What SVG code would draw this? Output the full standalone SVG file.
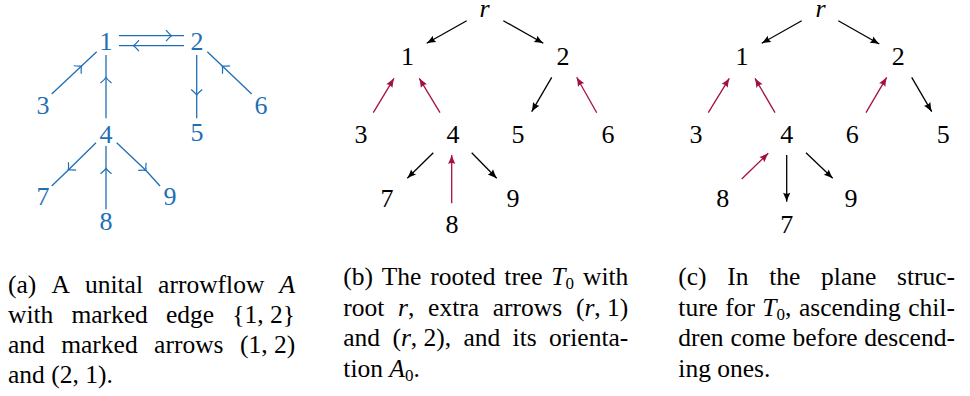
<svg xmlns="http://www.w3.org/2000/svg" width="970" height="396" viewBox="0 0 970 396">
<defs>
<style>
.lb{font-family:"Liberation Serif","Times New Roman",serif;font-size:26px;text-anchor:middle}
.blue{fill:#1f6fb5}
.cap{font-family:"Liberation Serif","Times New Roman",serif;font-size:25.5px;fill:#000}
.it{font-style:italic}
.sub{font-size:17px}
.ea{stroke:#1f6fb5;stroke-width:1.3;fill:none;marker-mid:url(#ma)}
.ek{stroke:#000;stroke-width:1.3;fill:none;marker-end:url(#mk)}
.er{stroke:#a3123e;stroke-width:1.3;fill:none;marker-end:url(#mr)}
</style>
<marker id="ma" viewBox="-8 -8 10 16" markerWidth="10" markerHeight="16" refX="0" refY="0" orient="auto" markerUnits="userSpaceOnUse" overflow="visible">
<path d="M-5.5,-5.5 Q-2,-1.3 0,0 Q-2,1.3 -5.5,5.5" stroke="#1f6fb5" stroke-width="1.2" fill="none"/>
</marker>
<marker id="mk" viewBox="-10 -5 12 10" markerWidth="12" markerHeight="10" refX="0" refY="0" orient="auto" markerUnits="userSpaceOnUse" overflow="visible">
<path d="M0,0 Q-4,-1.3 -9,-3.6 Q-7,0 -9,3.6 Q-4,1.3 0,0 Z" fill="#000"/>
</marker>
<marker id="mr" viewBox="-10 -5 12 10" markerWidth="12" markerHeight="10" refX="0" refY="0" orient="auto" markerUnits="userSpaceOnUse" overflow="visible">
<path d="M0,0 Q-4,-1.3 -9,-3.6 Q-7,0 -9,3.6 Q-4,1.3 0,0 Z" fill="#a3123e"/>
</marker>
</defs>

<!-- Panel (a) connectors -->
<g id="connectors-a">
<polyline class="ea" points="119,35.7 171.5,35.7 184,35.7"/>
<polyline class="ea" points="184,45.7 133.5,45.7 119,45.7"/>
<polyline class="ea" points="51.7,94 81.5,66 96.7,51.7"/>
<polyline class="ea" points="106,118.3 106,77.5 106,55"/>
<polyline class="ea" points="196.7,55 196.7,95 196.7,118.3"/>
<polyline class="ea" points="251.7,94 222.3,66 207.3,51.7"/>
<polyline class="ea" points="96,142.7 68.3,170 51.7,186"/>
<polyline class="ea" points="106,209.3 106,168.3 106,146"/>
<polyline class="ea" points="116.7,142.7 146,170.5 160,186"/>
</g>
<g id="a1"><text class="lb blue" x="106" y="50">1</text></g>
<g id="a2"><text class="lb blue" x="197" y="50">2</text></g>
<g id="a3"><text class="lb blue" x="43" y="114">3</text></g>
<g id="a4"><text class="lb blue" x="106" y="143">4</text></g>
<g id="a5"><text class="lb blue" x="197" y="141">5</text></g>
<g id="a6"><text class="lb blue" x="261" y="114">6</text></g>
<g id="a7"><text class="lb blue" x="43" y="205">7</text></g>
<g id="a8"><text class="lb blue" x="106" y="230">8</text></g>
<g id="a9"><text class="lb blue" x="170" y="205">9</text></g>

<!-- Panel (b) connectors -->
<g id="connectors-b">
<line class="ek" x1="466.7" y1="20.7" x2="426.7" y2="43.3"/>
<line class="ek" x1="503.3" y1="20.7" x2="543.3" y2="43.3"/>
<line class="er" x1="373.3" y1="112.7" x2="394" y2="78.3"/>
<line class="er" x1="440" y1="112.7" x2="419.3" y2="78.3"/>
<line class="ek" x1="551.7" y1="77.3" x2="531.7" y2="111.7"/>
<line class="er" x1="596.7" y1="112.7" x2="576.7" y2="77.3"/>
<line class="ek" x1="433.3" y1="152.7" x2="407.3" y2="178.3"/>
<line class="er" x1="451.7" y1="203.3" x2="451.7" y2="155"/>
<line class="ek" x1="471.7" y1="152.7" x2="496.7" y2="178.3"/>
</g>
<g id="br"><text class="lb it" x="484.5" y="16.5">r</text></g>
<g id="b1"><text class="lb" x="407.5" y="64.5">1</text></g>
<g id="b2"><text class="lb" x="563" y="64.5">2</text></g>
<g id="b3"><text class="lb" x="361" y="142.5">3</text></g>
<g id="b4"><text class="lb" x="453" y="142.5">4</text></g>
<g id="b5"><text class="lb" x="518" y="142.5">5</text></g>
<g id="b6"><text class="lb" x="608" y="142.5">6</text></g>
<g id="b7"><text class="lb" x="387" y="206.5">7</text></g>
<g id="b8"><text class="lb" x="452" y="232.5">8</text></g>
<g id="b9"><text class="lb" x="513" y="206.5">9</text></g>

<!-- Panel (c) connectors -->
<g id="connectors-c">
<line class="ek" x1="801.7" y1="20.7" x2="761.7" y2="43.3"/>
<line class="ek" x1="838.3" y1="20.7" x2="879.3" y2="44"/>
<line class="er" x1="708.3" y1="112.7" x2="729.3" y2="78.3"/>
<line class="er" x1="775" y1="112.7" x2="755" y2="78.3"/>
<line class="er" x1="866" y1="112.7" x2="886.7" y2="77.3"/>
<line class="ek" x1="911.7" y1="77.3" x2="931.7" y2="111.7"/>
<line class="er" x1="741.7" y1="179" x2="768.3" y2="153.3"/>
<line class="ek" x1="786.7" y1="155" x2="786.7" y2="201.7"/>
<line class="ek" x1="806" y1="152.7" x2="832.7" y2="178.3"/>
</g>
<g id="cr"><text class="lb it" x="820.5" y="16.5">r</text></g>
<g id="c1"><text class="lb" x="742" y="64.5">1</text></g>
<g id="c2"><text class="lb" x="898.3" y="64.5">2</text></g>
<g id="c3"><text class="lb" x="696" y="142.5">3</text></g>
<g id="c4"><text class="lb" x="786.7" y="142.5">4</text></g>
<g id="c6"><text class="lb" x="852.3" y="142.5">6</text></g>
<g id="c5"><text class="lb" x="943.3" y="142.5">5</text></g>
<g id="c8"><text class="lb" x="722.7" y="206.5">8</text></g>
<g id="c9"><text class="lb" x="851" y="206.5">9</text></g>
<g id="c7"><text class="lb" x="786.7" y="232.5">7</text></g>

<!-- Captions -->
<g id="caption-a" class="cap">
<text y="292.7"><tspan x="8">(a)</tspan><tspan x="51.4">A</tspan><tspan x="84.9">unital</tspan><tspan x="158.1">arrowflow</tspan><tspan x="279.4" class="it">A</tspan></text>
<text y="322.7"><tspan x="8">with</tspan><tspan x="71.4">marked</tspan><tspan x="166">edge</tspan><tspan x="232.2">{1, 2}</tspan></text>
<text y="353.3"><tspan x="8">and</tspan><tspan x="61.2">marked</tspan><tspan x="154.1">arrows</tspan><tspan x="239.9">(1, 2)</tspan></text>
<text y="383.3"><tspan x="8">and (2, 1).</tspan></text>
</g>
<g id="caption-b" class="cap">
<text y="285"><tspan x="343.3">(b)</tspan><tspan x="381.8">The</tspan><tspan x="430.3">rooted</tspan><tspan x="504.3">tree</tspan><tspan x="551.3" class="it">T</tspan><tspan class="sub" dy="4">0</tspan><tspan x="583" dy="-4">with</tspan></text>
<text y="315.5"><tspan x="343.3">root</tspan><tspan x="398.1" class="it">r</tspan><tspan>,</tspan><tspan x="428.1">extra</tspan><tspan x="492.8">arrows</tspan><tspan x="575.9">(</tspan><tspan class="it">r</tspan><tspan>, 1)</tspan></text>
<text y="346"><tspan x="343.3">and</tspan><tspan x="392.4">(</tspan><tspan class="it">r</tspan><tspan>, 2),</tspan><tspan x="463.5">and</tspan><tspan x="512.6">its</tspan><tspan x="549">orienta-</tspan></text>
<text y="376.7"><tspan x="343.3">tion </tspan><tspan class="it">A</tspan><tspan class="sub" dy="4">0</tspan><tspan dy="-4">.</tspan></text>
</g>
<g id="caption-c" class="cap">
<text y="285"><tspan x="678.3">(c)</tspan><tspan x="727.3">In</tspan><tspan x="769.2">the</tspan><tspan x="821.1">plane</tspan><tspan x="897">struc-</tspan></text>
<text y="315.5"><tspan x="678.3">ture</tspan><tspan x="725.3">for</tspan><tspan x="762.3" class="it">T</tspan><tspan class="sub" dy="4">0</tspan><tspan dy="-4">,</tspan><tspan x="798.9">ascending</tspan><tspan x="908.2">chil-</tspan></text>
<text y="346"><tspan x="678.3">dren</tspan><tspan x="730.4">come</tspan><tspan x="792.4">before</tspan><tspan x="864.3">descend-</tspan></text>
<text y="376.7"><tspan x="678.3">ing ones.</tspan></text>
</g>
</svg>
